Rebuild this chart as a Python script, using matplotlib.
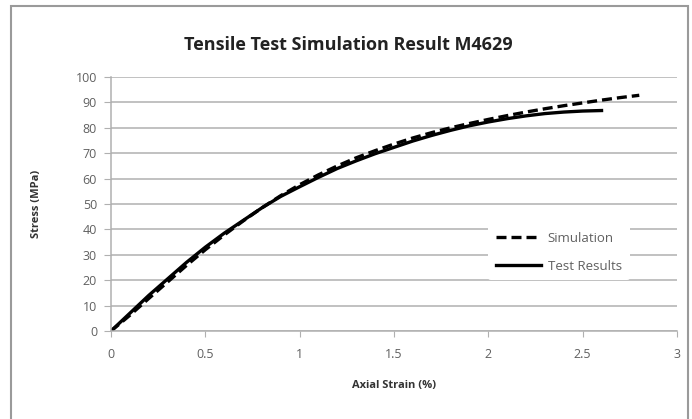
import matplotlib.pyplot as plt
from matplotlib.patches import Rectangle

# values
strain_test = [0, 0.1, 0.2, 0.3, 0.4, 0.5, 0.6, 0.7, 0.8, 0.9, 1.0, 1.1, 1.2, 1.3,
               1.4, 1.5, 1.6, 1.7, 1.8, 1.9, 2.0, 2.1, 2.2, 2.3, 2.4, 2.5, 2.6]
stress_test = [0, 7, 14, 20.5, 27, 33, 38.5, 43.5, 48.5, 53, 56.8, 60.5, 64, 67, 69.8,
               72.3, 74.8, 77, 79, 80.8, 82.3, 83.6, 84.7, 85.6, 86.2, 86.6, 86.8]

strain_sim = [0, 0.1, 0.2, 0.3, 0.4, 0.5, 0.6, 0.7, 0.8, 0.9, 1.0, 1.1, 1.2, 1.3, 1.4,
              1.5, 1.6, 1.7, 1.8, 1.9, 2.0, 2.1, 2.2, 2.3, 2.4, 2.5, 2.6, 2.7, 2.8]
stress_sim = [0, 6.2, 12.8, 19.3, 25.8, 32, 37.8, 43.3, 48.5, 53.3, 57.6, 61.5, 65, 68.2,
              71, 73.6, 76, 78.1, 80, 81.7, 83.3, 84.8, 86.2, 87.5, 88.7, 89.8, 90.9, 91.9, 92.8]

xticks = [0, 0.5, 1, 1.5, 2, 2.5, 3]
xticklabels = ['0', '0.5', '1', '1.5', '2', '2.5', '3']
yticks = list(range(0, 101, 10))

plt.rcParams['font.family'] = ['Open Sans', 'DejaVu Sans']

fig = plt.figure(figsize=(6.92, 4.19), dpi=100)
fig.patches.append(Rectangle((11 / 692, -0.05), (677 / 692), 1.05 - 6 / 419,
                             transform=fig.transFigure, fill=False,
                             edgecolor='#9a9a9a', linewidth=1.5))

ax = fig.add_axes([111 / 692, 1 - 331 / 419, 566 / 692, 254 / 419])

ax.plot(strain_sim, stress_sim, color='black', linestyle=(0, (3, 1.5)), linewidth=2.4,
        label='Simulation')
ax.plot(strain_test, stress_test, color='black', linestyle='-', linewidth=2.4,
        label='Test Results')

ax.set_xlim(0, 3)
ax.set_ylim(0, 100)
ax.set_xticks(xticks)
ax.set_xticklabels(xticklabels)
ax.set_yticks(yticks)
ax.yaxis.grid(True, color='#b0b0b0', linewidth=1.1)
ax.set_axisbelow(True)

for side in ['top', 'right']:
    ax.spines[side].set_visible(False)
ax.spines['left'].set_color('#b0b0b0')
ax.spines['bottom'].set_color('#b0b0b0')
ax.spines['left'].set_linewidth(1.1)
ax.spines['bottom'].set_linewidth(1.1)
ax.tick_params(axis='both', colors='#b0b0b0', labelcolor='#606060', labelsize=9,
               length=4)
ax.tick_params(axis='x', direction='out', pad=8)
ax.tick_params(axis='y', length=5, pad=5)

ax.set_xlabel('Axial Strain (%)', fontsize=8, fontweight='bold', color='#333333',
              labelpad=14)
ax.set_ylabel('Stress (MPa)', fontsize=8, fontweight='bold', color='#333333',
              labelpad=24)
fig.text(348 / 692, 1 - 45 / 419, 'Tensile Test Simulation Result M4629',
         ha='center', va='center', fontsize=13, fontweight='bold', color='#222222')

leg = ax.legend(loc='center left', bbox_to_anchor=(0.655, 0.31), frameon=True,
                fontsize=9.5, handlelength=3.4, handletextpad=0.5,
                labelspacing=1.1, borderpad=0.6)
leg.get_frame().set_edgecolor('none')
leg.get_frame().set_facecolor('white')
leg.get_frame().set_alpha(1)
for t in leg.get_texts():
    t.set_color('#606060')

fig.savefig('out.png', dpi=100)
